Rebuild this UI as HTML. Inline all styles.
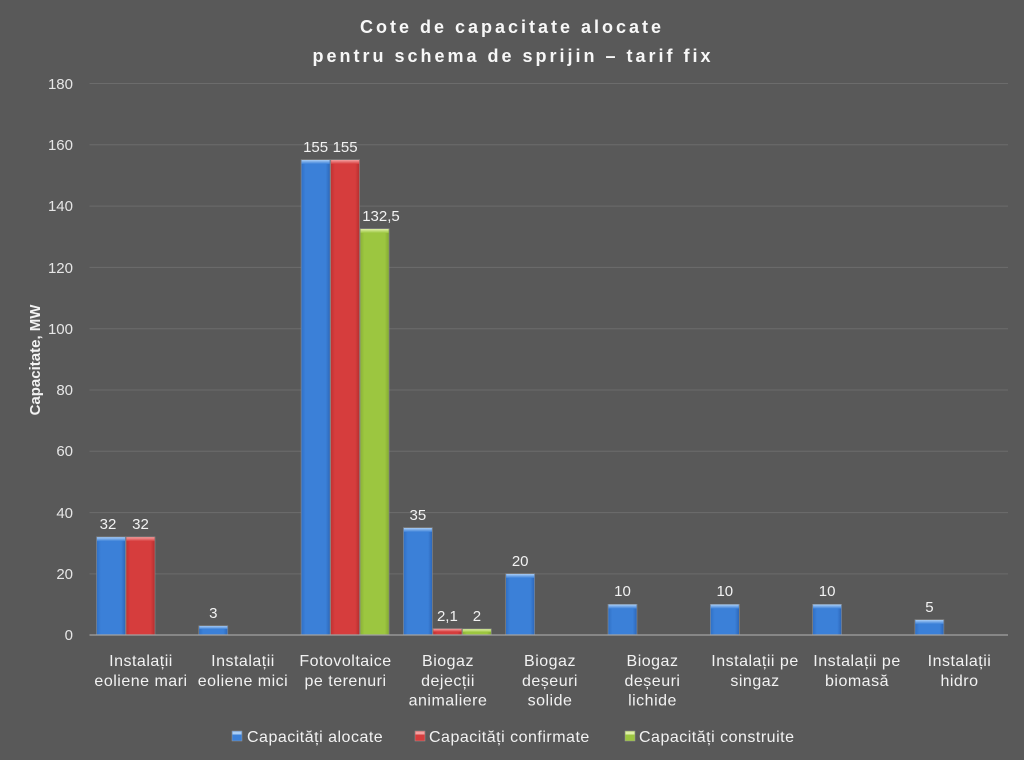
<!DOCTYPE html>
<html>
<head>
<meta charset="utf-8">
<style>
  html,body{margin:0;padding:0;background:#595959;}
  svg{display:block;}
  text{font-family:"Liberation Sans","DejaVu Sans",sans-serif;fill:#f2f2f2;}
  .tick{font-size:15px;fill:#e6e6e6;}
  .cat{font-size:16px;letter-spacing:0.5px;}
  .dl{font-size:15px;}
  .leg{font-size:16px;letter-spacing:0.5px;}
  .title{font-size:18px;font-weight:bold;letter-spacing:3px;fill:#f7f7f7;}
</style>
</head>
<body>
<svg width="1024" height="760" viewBox="0 0 1024 760" xmlns="http://www.w3.org/2000/svg">
  <defs>
    <linearGradient id="gB" x1="0" y1="0" x2="1" y2="0">
      <stop offset="0" stop-color="#2f6fc4"/>
      <stop offset="0.15" stop-color="#3b80d8"/>
      <stop offset="0.85" stop-color="#3b80d8"/>
      <stop offset="1" stop-color="#2c66b8"/>
    </linearGradient>
    <linearGradient id="gR" x1="0" y1="0" x2="1" y2="0">
      <stop offset="0" stop-color="#c03232"/>
      <stop offset="0.15" stop-color="#d63d3d"/>
      <stop offset="0.85" stop-color="#d63d3d"/>
      <stop offset="1" stop-color="#b52e2e"/>
    </linearGradient>
    <linearGradient id="gG" x1="0" y1="0" x2="1" y2="0">
      <stop offset="0" stop-color="#8ab236"/>
      <stop offset="0.15" stop-color="#9cc640"/>
      <stop offset="0.85" stop-color="#9cc640"/>
      <stop offset="1" stop-color="#82a932"/>
    </linearGradient>
    <linearGradient id="tB" x1="0" y1="0" x2="0" y2="1">
      <stop offset="0" stop-color="#a9cdf5"/><stop offset="1" stop-color="#3b80d8"/>
    </linearGradient>
    <linearGradient id="tR" x1="0" y1="0" x2="0" y2="1">
      <stop offset="0" stop-color="#f4a0a0"/><stop offset="1" stop-color="#d63d3d"/>
    </linearGradient>
    <linearGradient id="tG" x1="0" y1="0" x2="0" y2="1">
      <stop offset="0" stop-color="#dff0a8"/><stop offset="1" stop-color="#9cc640"/>
    </linearGradient>
  </defs>

  <rect x="0" y="0" width="1024" height="760" fill="#595959"/>

  <!-- Title -->
  <text class="title" x="512" y="33" text-anchor="middle">Cote de capacitate alocate</text>
  <text class="title" x="513" y="62" text-anchor="middle">pentru schema de sprijin – tarif fix</text>

  <!-- Gridlines -->
  <g stroke="#6c6c6c" stroke-width="1">
    <line x1="89.5" y1="83.5" x2="1008" y2="83.5"/>
    <line x1="89.5" y1="144.8" x2="1008" y2="144.8"/>
    <line x1="89.5" y1="206.1" x2="1008" y2="206.1"/>
    <line x1="89.5" y1="267.4" x2="1008" y2="267.4"/>
    <line x1="89.5" y1="328.7" x2="1008" y2="328.7"/>
    <line x1="89.5" y1="390" x2="1008" y2="390"/>
    <line x1="89.5" y1="451.3" x2="1008" y2="451.3"/>
    <line x1="89.5" y1="512.6" x2="1008" y2="512.6"/>
    <line x1="89.5" y1="573.9" x2="1008" y2="573.9"/>
  </g>

  <!-- Tick labels -->
  <g class="tick" text-anchor="end">
    <text class="tick" x="73" y="89">180</text>
    <text class="tick" x="73" y="150">160</text>
    <text class="tick" x="73" y="211">140</text>
    <text class="tick" x="73" y="273">120</text>
    <text class="tick" x="73" y="334">100</text>
    <text class="tick" x="73" y="395">80</text>
    <text class="tick" x="73" y="456">60</text>
    <text class="tick" x="73" y="518">40</text>
    <text class="tick" x="73" y="579">20</text>
    <text class="tick" x="73" y="640">0</text>
  </g>

  <!-- Y axis title -->
  <text x="0" y="0" transform="translate(40,360) rotate(-90)" text-anchor="middle" style="font-size:15px;font-weight:bold;">Capacitate, MW</text>

  <!-- Bars -->
  <g stroke="#8a8a8a" stroke-width="0.6">
    <!-- cat1 -->
    <rect x="96.5" y="536.9" width="29" height="98.1" fill="url(#gB)"/>
    <rect x="126" y="536.9" width="29" height="98.1" fill="url(#gR)"/>
    <!-- cat2 -->
    <rect x="198.8" y="625.8" width="29" height="9.2" fill="url(#gB)"/>
    <!-- cat3 -->
    <rect x="301.1" y="159.7" width="29" height="475.3" fill="url(#gB)"/>
    <rect x="330.6" y="159.7" width="29" height="475.3" fill="url(#gR)"/>
    <rect x="360.1" y="228.7" width="29" height="406.3" fill="url(#gG)"/>
    <!-- cat4 -->
    <rect x="403.4" y="527.7" width="29" height="107.3" fill="url(#gB)"/>
    <rect x="432.9" y="628.6" width="29" height="6.4" fill="url(#gR)"/>
    <rect x="462.4" y="628.9" width="29" height="6.1" fill="url(#gG)"/>
    <!-- cat5 -->
    <rect x="505.7" y="573.7" width="29" height="61.3" fill="url(#gB)"/>
    <!-- cat6 -->
    <rect x="608" y="604.3" width="29" height="30.7" fill="url(#gB)"/>
    <!-- cat7 -->
    <rect x="710.3" y="604.3" width="29" height="30.7" fill="url(#gB)"/>
    <!-- cat8 -->
    <rect x="812.6" y="604.3" width="29" height="30.7" fill="url(#gB)"/>
    <!-- cat9 -->
    <rect x="914.9" y="619.7" width="29" height="15.3" fill="url(#gB)"/>
  </g>
  <!-- bevel tops -->
  <g>
    <rect x="97" y="537.2" width="28" height="4" fill="url(#tB)"/>
    <rect x="126.5" y="537.2" width="28" height="4" fill="url(#tR)"/>
    <rect x="199.3" y="626.1" width="28" height="3" fill="url(#tB)"/>
    <rect x="301.6" y="160" width="28" height="4" fill="url(#tB)"/>
    <rect x="331.1" y="160" width="28" height="4" fill="url(#tR)"/>
    <rect x="360.6" y="229" width="28" height="4" fill="url(#tG)"/>
    <rect x="403.9" y="528" width="28" height="4" fill="url(#tB)"/>
    <rect x="433.4" y="628.9" width="28" height="3" fill="url(#tR)"/>
    <rect x="462.9" y="629.2" width="28" height="3" fill="url(#tG)"/>
    <rect x="506.2" y="574" width="28" height="4" fill="url(#tB)"/>
    <rect x="608.5" y="604.6" width="28" height="4" fill="url(#tB)"/>
    <rect x="710.8" y="604.6" width="28" height="4" fill="url(#tB)"/>
    <rect x="813.1" y="604.6" width="28" height="4" fill="url(#tB)"/>
    <rect x="915.4" y="620" width="28" height="4" fill="url(#tB)"/>
  </g>

  <!-- Axis line -->
  <line x1="89.5" y1="635" x2="1008" y2="635" stroke="#a3a3a3" stroke-width="1.2"/>

  <!-- Data labels -->
  <g text-anchor="middle">
    <text class="dl" x="108" y="529">32</text>
    <text class="dl" x="140.5" y="529">32</text>
    <text class="dl" x="213.3" y="618">3</text>
    <text class="dl" x="315.6" y="152">155</text>
    <text class="dl" x="345.1" y="152">155</text>
    <text class="dl" x="381" y="221">132,5</text>
    <text class="dl" x="417.9" y="520">35</text>
    <text class="dl" x="447.4" y="621">2,1</text>
    <text class="dl" x="476.9" y="621">2</text>
    <text class="dl" x="520.2" y="566">20</text>
    <text class="dl" x="622.5" y="596">10</text>
    <text class="dl" x="724.8" y="596">10</text>
    <text class="dl" x="827.1" y="596">10</text>
    <text class="dl" x="929.4" y="612">5</text>
  </g>

  <!-- Category labels -->
  <g text-anchor="middle">
    <text class="cat" x="141" y="666">Instalații</text>
    <text class="cat" x="141" y="686">eoliene mari</text>

    <text class="cat" x="243" y="666">Instalații</text>
    <text class="cat" x="243" y="686">eoliene mici</text>

    <text class="cat" x="345.5" y="666">Fotovoltaice</text>
    <text class="cat" x="345.5" y="686">pe terenuri</text>

    <text class="cat" x="448" y="666">Biogaz</text>
    <text class="cat" x="448" y="686">dejecții</text>
    <text class="cat" x="448" y="705.5">animaliere</text>

    <text class="cat" x="550" y="666">Biogaz</text>
    <text class="cat" x="550" y="686">deșeuri</text>
    <text class="cat" x="550" y="705.5">solide</text>

    <text class="cat" x="652.5" y="666">Biogaz</text>
    <text class="cat" x="652.5" y="686">deșeuri</text>
    <text class="cat" x="652.5" y="705.5">lichide</text>

    <text class="cat" x="755" y="666">Instalații pe</text>
    <text class="cat" x="755" y="686">singaz</text>

    <text class="cat" x="857" y="666">Instalații pe</text>
    <text class="cat" x="857" y="686">biomasă</text>

    <text class="cat" x="959.5" y="666">Instalații</text>
    <text class="cat" x="959.5" y="686">hidro</text>
  </g>

  <!-- Legend -->
  <rect x="232" y="731" width="10" height="10" fill="#3b80d8" stroke="#9a9a9a" stroke-width="0.5"/>
  <rect x="232.5" y="731.5" width="9" height="3" fill="#a9cdf5"/>
  <text class="leg" x="247" y="742">Capacități alocate</text>

  <rect x="415" y="731" width="10" height="10" fill="#d63d3d" stroke="#9a9a9a" stroke-width="0.5"/>
  <rect x="415.5" y="731.5" width="9" height="3" fill="#f4a0a0"/>
  <text class="leg" x="429" y="742">Capacități confirmate</text>

  <rect x="625" y="731" width="10" height="10" fill="#9cc640" stroke="#9a9a9a" stroke-width="0.5"/>
  <rect x="625.5" y="731.5" width="9" height="3" fill="#dff0a8"/>
  <text class="leg" x="639" y="742">Capacități construite</text>
</svg>
</body>
</html>
